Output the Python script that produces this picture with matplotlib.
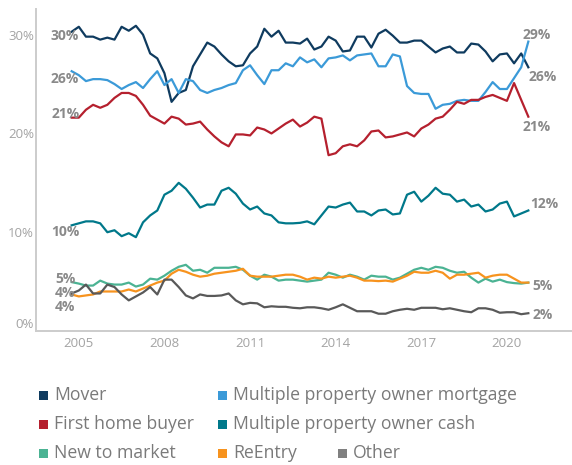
import matplotlib
matplotlib.use("Agg")
import matplotlib.pyplot as plt
from matplotlib.patches import Rectangle
import numpy as np

plt.rcParams["font.family"] = ["Open Sans", "DejaVu Sans"]

# ---------- data (share of purchases, %), quarterly from Q4 2004 ----------
quarters = 2004.75 + 0.25 * np.arange(65)

mover = [30.3, 30.8, 29.8, 29.8, 29.5, 29.7, 29.5, 30.8, 30.4, 30.9,
         30.0, 28.1, 27.6, 26.1, 23.2, 24.1, 24.4, 26.8, 28.0, 29.2,
         28.8, 28.0, 27.3, 26.8, 26.9, 28.1, 28.8, 30.6, 29.8, 30.4,
         29.2, 29.2, 29.1, 29.6, 28.5, 28.8, 29.8, 29.4, 28.3, 28.4,
         29.8, 29.8, 28.7, 30.1, 30.5, 29.9, 29.2, 29.2, 29.4, 29.4,
         28.8, 28.2, 28.6, 28.8, 28.2, 28.2, 29.1, 29.0, 28.3, 27.3,
         28.0, 28.1, 27.1, 28.1, 26.7]
mpo_mortgage = [26.3, 25.9, 25.3, 25.5, 25.5, 25.4, 25.0, 24.5, 24.9, 25.2,
                24.6, 25.5, 26.3, 24.9, 25.5, 24.1, 25.5, 25.3, 24.4, 24.1,
                24.4, 24.6, 24.9, 25.1, 26.4, 26.9, 25.9, 25.0, 26.4, 26.4,
                27.1, 26.8, 27.7, 27.2, 27.5, 26.7, 27.6, 27.7, 27.9, 27.4,
                27.9, 28.0, 28.1, 26.8, 26.8, 28.0, 27.8, 24.8, 24.1, 24.0,
                24.0, 22.5, 22.9, 23.0, 23.3, 23.4, 23.3, 23.3, 24.2, 25.2,
                24.5, 24.5, 25.6, 26.7, 29.3]
first_home = [21.6, 21.6, 22.4, 22.9, 22.6, 22.9, 23.6, 24.1, 24.1, 23.8,
              22.9, 21.8, 21.4, 21.0, 21.7, 21.5, 20.9, 21.0, 21.2, 20.4,
              19.7, 19.1, 18.7, 19.9, 19.9, 19.8, 20.6, 20.4, 20.0, 20.5,
              21.0, 21.4, 20.7, 21.1, 21.7, 21.5, 17.8, 18.0, 18.7, 18.9,
              18.7, 19.3, 20.2, 20.3, 19.6, 19.7, 19.9, 20.1, 19.7, 20.5,
              20.9, 21.5, 21.7, 22.4, 23.2, 23.0, 23.4, 23.4, 23.7, 23.9,
              23.6, 23.3, 25.1, 23.4, 21.7]
mpo_cash = [10.7, 10.9, 11.1, 11.1, 10.9, 10.0, 10.2, 9.6, 9.9, 9.5,
            11.0, 11.7, 12.2, 13.8, 14.2, 15.0, 14.4, 13.5, 12.5, 12.8,
            12.8, 14.2, 14.5, 13.9, 12.9, 12.3, 12.6, 11.9, 11.7, 11.0,
            10.9, 10.9, 10.95, 11.1, 10.8, 11.7, 12.6, 12.5, 12.8, 13.0,
            12.1, 12.1, 11.7, 12.2, 12.3, 11.8, 11.9, 13.8, 14.1, 13.1,
            13.7, 14.5, 13.9, 13.8, 13.1, 13.3, 12.6, 12.8, 12.1, 12.3,
            12.9, 13.1, 11.6, 11.9, 12.2]
new_to_market = [4.95, 4.8, 4.6, 4.6, 5.1, 4.8, 4.7, 4.7, 4.9, 4.5,
                 4.7, 5.3, 5.2, 5.6, 6.1, 6.5, 6.7, 6.1, 6.2, 5.9,
                 6.4, 6.4, 6.4, 6.5, 6.2, 5.6, 5.2, 5.7, 5.5, 5.1,
                 5.2, 5.2, 5.1, 5.0, 5.1, 5.2, 5.9, 5.7, 5.4, 5.7,
                 5.5, 5.2, 5.6, 5.5, 5.5, 5.2, 5.4, 5.8, 6.2, 6.4,
                 6.2, 6.5, 6.4, 6.1, 5.9, 6.0, 5.4, 4.9, 5.3, 5.0,
                 5.2, 4.95, 4.85, 4.8, 4.9]
reentry = [3.7, 3.5, 3.6, 3.7, 4.0, 4.0, 4.0, 4.0, 4.2, 4.0,
           4.3, 4.6, 4.9, 5.1, 5.8, 6.2, 6.0, 5.7, 5.5, 5.6,
           5.8, 5.9, 6.0, 6.1, 6.3, 5.6, 5.5, 5.5, 5.5, 5.6,
           5.7, 5.7, 5.5, 5.2, 5.4, 5.3, 5.5, 5.4, 5.5, 5.6,
           5.4, 5.1, 5.1, 5.05, 5.1, 5.0, 5.3, 5.6, 6.0, 5.9,
           5.9, 6.1, 5.9, 5.3, 5.7, 5.7, 5.8, 5.9, 5.4, 5.6,
           5.7, 5.7, 5.3, 4.9, 4.9]
other = [3.8, 4.1, 4.7, 3.8, 3.8, 4.7, 4.45, 3.7, 3.1, 3.5,
         3.9, 4.45, 3.7, 5.2, 5.2, 4.45, 3.6, 3.3, 3.7, 3.55,
         3.55, 3.6, 3.8, 3.1, 2.7, 2.85, 2.8, 2.4, 2.5, 2.45,
         2.45, 2.35, 2.3, 2.4, 2.4, 2.3, 2.15, 2.4, 2.7, 2.35,
         2.0, 2.0, 2.0, 1.75, 1.75, 2.0, 2.15, 2.25, 2.15, 2.35,
         2.35, 2.35, 2.2, 2.3, 2.15, 2.0, 1.9, 2.3, 2.3, 2.15,
         1.85, 1.9, 1.9, 1.7, 1.8]

series_names = ["Mover", "Multiple property owner mortgage", "First home buyer",
                "Multiple property owner cash", "New to market", "ReEntry", "Other"]
series_values = [mover, mpo_mortgage, first_home, mpo_cash,
                 new_to_market, reentry, other]
line_colors = ["#0f3b5f", "#3b9ad8", "#b5202e", "#00788a",
               "#4bb393", "#f7931e", "#595959"]
legend_colors = ["#0f3b5f", "#3b9ad8", "#b5202e", "#00788a",
                 "#4bb393", "#f7931e", "#808080"]

# start / end value labels (text, y position)
start_labels = [("30%", 29.9), ("26%", 25.55), ("21%", 22.0), ("10%", 10.0),
                ("5%", 5.3), ("4%", 3.8), ("4%", 2.45)]
end_labels = [("29%", 2020.53, 30.0), ("26%", 2020.77, 25.7), ("21%", 2020.53, 20.66),
              ("12%", 2020.81, 12.86), ("5%", 2020.88, 4.58), ("2%", 2020.88, 1.57)]

year_ticks = [2005, 2008, 2011, 2014, 2017, 2020]
pct_ticks = [0, 10, 20, 30]

# ---------- plot ----------
W, H = 572, 465
fig = plt.figure(figsize=(W / 100, H / 100), dpi=100)
ax = fig.add_axes([36 / W, 1 - 331 / H, 536 / W, 322 / H])

for vals, c in zip(series_values, line_colors):
    ax.plot(quarters, vals, color=c, linewidth=1.6, solid_joinstyle="round")

ax.set_xlim(2003.50, 2022.28)
ax.set_ylim(0, 32.6)
ax.set_xticks(year_ticks)
ax.set_xticklabels([str(y) for y in year_ticks])
ax.set_yticks(pct_ticks)
ax.set_yticklabels([f"{p}%" for p in pct_ticks])
ax.get_yticklabels()[0].set_va("bottom")

for s in ["top", "right"]:
    ax.spines[s].set_visible(False)
for s in ["left", "bottom"]:
    ax.spines[s].set_color("#cccccc")
    ax.spines[s].set_linewidth(1.4)
ax.tick_params(length=0, labelsize=9.5, labelcolor="#a3a3a3")
ax.tick_params(axis="y", pad=1.5)
ax.tick_params(axis="x", pad=4)

lab_kw = dict(fontsize=10, fontweight="bold", color="#8a8a8a", va="center")
for txt, y in start_labels:
    ax.text(2004.52, y, txt, ha="center", **lab_kw)
for txt, x, y in end_labels:
    ax.text(x, y, txt, ha="left", **lab_kw)

# ---------- legend (3 rows, flowing items) ----------
legend_layout = [(0, 39, 395), (1, 218, 395), (2, 39, 424), (3, 218, 424),
                 (4, 39, 453), (5, 218, 453), (6, 338, 453)]
for idx, px, py in legend_layout:
    sq = 9
    fig.add_artist(Rectangle(((px) / W, 1 - (py + sq / 2) / H), sq / W, sq / H,
                             transform=fig.transFigure, color=legend_colors[idx],
                             linewidth=0))
    fig.text((px + 15) / W, 1 - py / H, series_names[idx], fontsize=12.7,
             color="#7a7a7a", va="center", ha="left")

fig.savefig("out.png", dpi=100)
